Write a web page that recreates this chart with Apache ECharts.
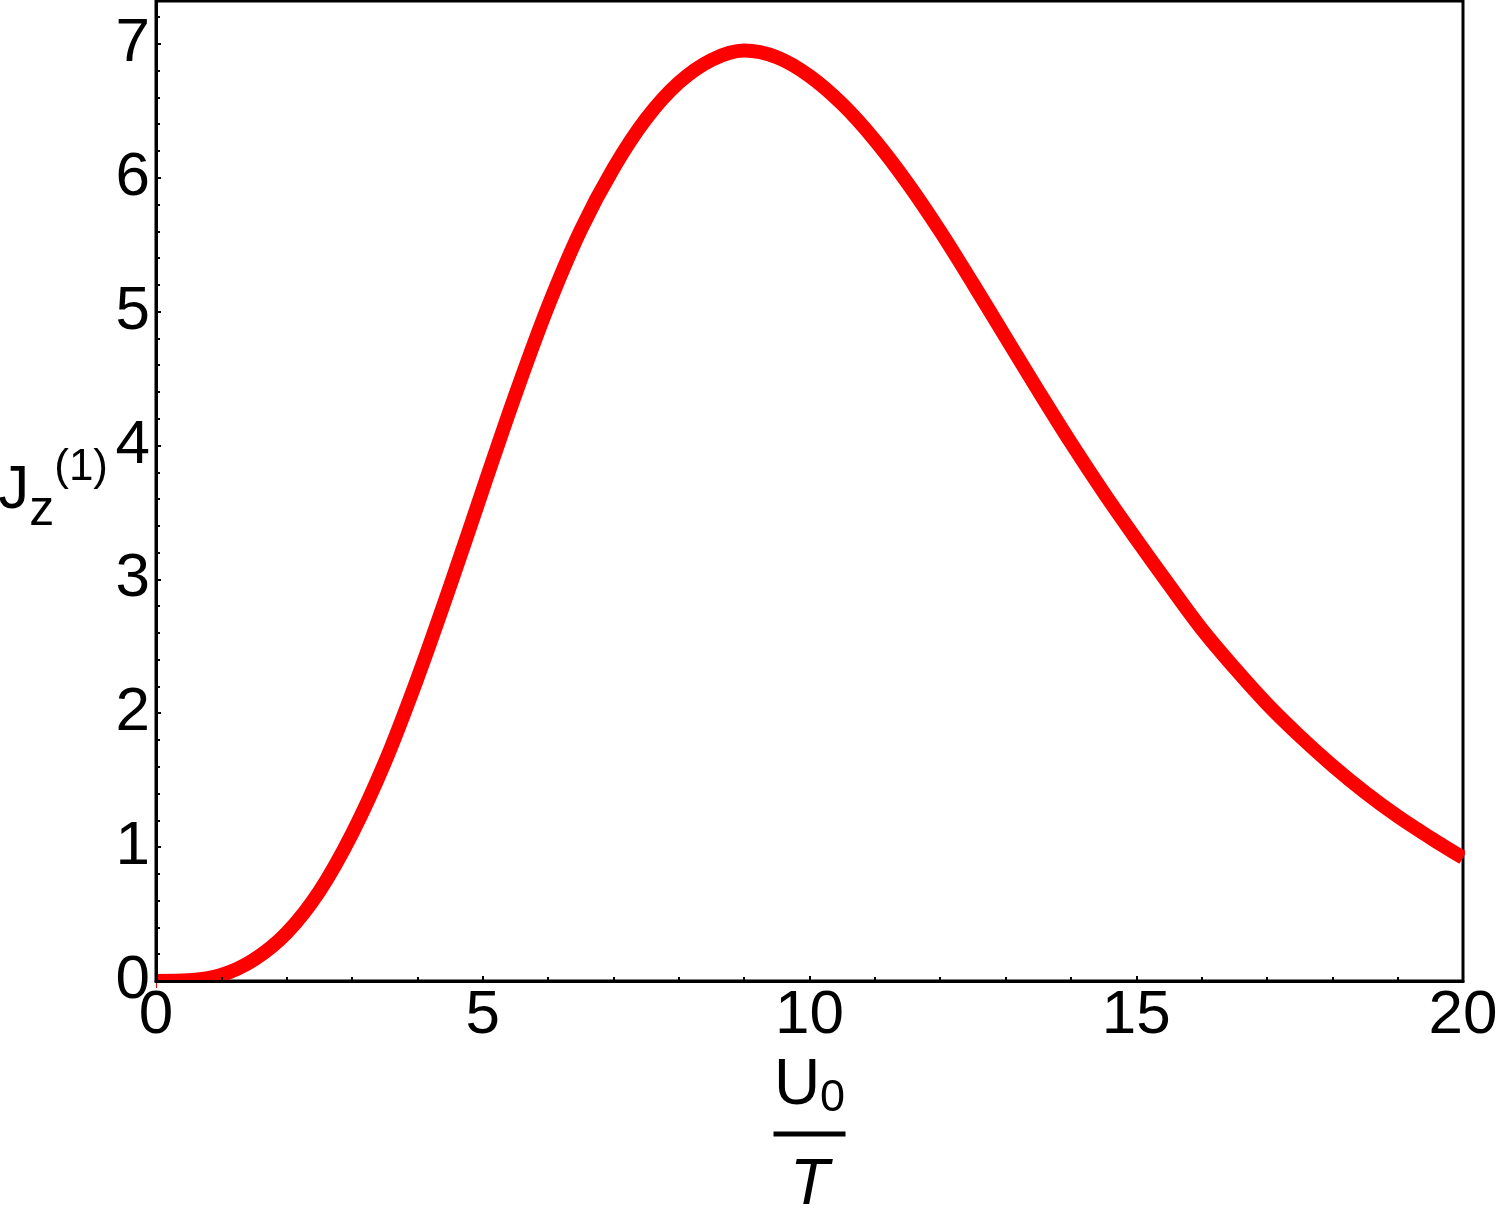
<!DOCTYPE html>
<html>
<head>
<meta charset="utf-8">
<title>Jz(1) vs U0/T</title>
<script src="https://cdn.jsdelivr.net/npm/echarts@6/dist/echarts.min.js"></script>
<style>
    html, body { margin: 0; padding: 0; background: #fff; }
    .charnx { width: 1500px; height: 1211px; }
</style>
</head>
<body>
<div class="charnx"></div>
<script>
// x values (U0/T) and curve values
var xVals = [0, 0.5, 1, 1.5, 2, 2.5, 3, 3.5, 4, 4.5, 5, 5.5, 6, 6.5, 7, 7.5, 8, 8.5, 9, 9.5, 10,
             10.5, 11, 11.5, 12, 12.5, 13, 13.5, 14, 14.5, 15, 15.5, 16, 16.5, 17, 17.5, 18, 18.5, 19, 19.5, 20];
var jzVals = [0.00, 0.005, 0.045, 0.16, 0.36, 0.67, 1.10, 1.63, 2.26, 2.95, 3.67, 4.38, 5.04, 5.61, 6.07, 6.44, 6.71, 6.88, 6.95, 6.90, 6.76,
              6.55, 6.28, 5.96, 5.60, 5.21, 4.81, 4.41, 4.02, 3.65, 3.30, 2.96, 2.63, 2.34, 2.07, 1.83, 1.61, 1.41, 1.23, 1.07, 0.92];
var xTicks = [0, 5, 10, 15, 20];
var yTicks = [0, 1, 2, 3, 4, 5, 6, 7];

(function () {
    var myChart = echarts.init(document.querySelector(".charnx"));
    var font = "'Liberation Sans', Arial, sans-serif";

    var seriesData = [];
    for (var i = 0; i < xVals.length; i++) {
        seriesData.push([xVals[i], jzVals[i]]);
    }

    option = {
        backgroundColor: '#ffffff',
        animation: false,
        grid: {
            left: 156,
            right: 37,
            top: 1,
            bottom: 230,
            show: true,
            borderColor: '#000',
            borderWidth: 3,
            backgroundColor: 'transparent',
            containLabel: false,
            outerBoundsMode: 'none'
        },
        xAxis: {
            type: 'value',
            min: xTicks[0],
            max: xTicks[xTicks.length - 1],
            interval: 5,
            z: 5,
            axisLine: { show: true, onZero: false, lineStyle: { color: '#000', width: 3 } },
            axisTick: { show: true, inside: true, length: 5, lineStyle: { color: '#000', width: 2 } },
            minorTick: { show: true, splitNumber: 5, length: 4, lineStyle: { color: '#000', width: 2 } },
            splitLine: { show: false },
            axisLabel: {
                color: '#000',
                fontSize: 62,
                fontFamily: font,
                margin: 4
            },
            name: '{u|U}{sub|0}\n{bar| }\n{t|T}',
            nameLocation: 'middle',
            nameGap: 70,
            nameMoveOverlap: false,
            nameTextStyle: {
                color: '#000',
                fontFamily: font,
                align: 'center',
                verticalAlign: 'top',
                rich: {
                    u: { fontSize: 64, fontFamily: font, lineHeight: 70, color: '#000' },
                    sub: { fontSize: 45, fontFamily: font, lineHeight: 34, verticalAlign: 'bottom', color: '#000' },
                    bar: { width: 72, height: 5, lineHeight: 26, backgroundColor: '#000', fontSize: 4 },
                    t: { fontSize: 64, fontFamily: font, fontStyle: 'italic', lineHeight: 78, color: '#000' }
                }
            }
        },
        yAxis: {
            type: 'value',
            min: yTicks[0],
            max: 7.32,
            interval: 1,
            z: 5,
            axisLine: { show: true, onZero: false, lineStyle: { color: '#000', width: 3 } },
            axisTick: { show: true, inside: true, length: 5, lineStyle: { color: '#000', width: 2 } },
            minorTick: { show: true, splitNumber: 5, length: 4, lineStyle: { color: '#000', width: 2 } },
            splitLine: { show: false },
            axisLabel: {
                color: '#000',
                fontSize: 62,
                fontFamily: font,
                margin: 6,
                showMaxLabel: false
            },
            name: '{j|J}{sub|z}{sup|(1)}',
            nameLocation: 'middle',
            nameRotate: 0,
            nameGap: 48,
            nameMoveOverlap: false,
            nameTextStyle: {
                color: '#000',
                fontFamily: font,
                align: 'right',
                verticalAlign: 'middle',
                rich: {
                    j: { fontSize: 62, fontFamily: font, lineHeight: 90, color: '#000' },
                    sub: { fontSize: 50, fontFamily: font, lineHeight: 44, verticalAlign: 'bottom', color: '#000' },
                    sup: { fontSize: 44, fontFamily: font, lineHeight: 58, verticalAlign: 'top', color: '#000' }
                }
            }
        },
        // white strips outside the frame so the thick curve is cut at the frame
        graphic: [
            {
                type: 'rect',
                z: 3,
                left: 157,
                top: 982,
                shape: { width: 90, height: 9 },
                style: { fill: '#fff' }
            },
            {
                type: 'rect',
                z: 3,
                left: 1465,
                top: 820,
                shape: { width: 14, height: 60 },
                style: { fill: '#fff' }
            }
        ],
        series: [
            {
                name: 'Jz',
                type: 'line',
                data: seriesData,
                smooth: 0.35,
                showSymbol: false,
                symbol: 'none',
                clip: true,
                lineStyle: { color: '#ff0000', width: 14 },
                z: 2
            }
        ]
    };
    myChart.setOption(option);
    window.addEventListener("resize", function () {
        myChart.resize();
    });
})();
</script>
</body>
</html>
